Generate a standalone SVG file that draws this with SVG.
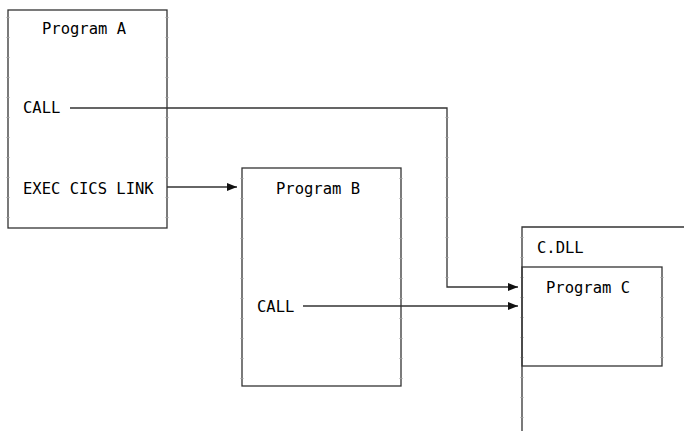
<svg xmlns="http://www.w3.org/2000/svg" width="684" height="431" viewBox="0 0 684 431">
<style>
.box{fill:none;stroke:#333;stroke-width:1.3}
.ln{fill:none;stroke:#333;stroke-width:1.3}
.tk{fill:none;stroke:#999;stroke-width:3;stroke-dasharray:1 19}
text{font-family:"DejaVu Sans Mono","Liberation Mono",monospace;font-size:15.5px;fill:#000}
</style>
<defs>
<marker id="ah" markerWidth="10" markerHeight="8" refX="10" refY="4" orient="auto" markerUnits="userSpaceOnUse">
<path d="M0,0 L10,4 L0,8 Z" fill="#111"/>
</marker>
</defs>
<g id="programA">
<rect class="box" x="8" y="10" width="159" height="218"/>
<line class="tk" x1="8" y1="17" x2="8" y2="228"/>
<line class="tk" x1="167" y1="17" x2="167" y2="228"/>
<text x="42" y="34">Program A</text>
<text x="23" y="113">CALL</text>
<text x="23" y="194">EXEC CICS LINK</text>
</g>
<g id="programB">
<rect class="box" x="242" y="168" width="159" height="218"/>
<line class="tk" x1="242" y1="178" x2="242" y2="386"/>
<line class="tk" x1="401" y1="178" x2="401" y2="386"/>
<text x="276" y="194">Program B</text>
<text x="257" y="312">CALL</text>
</g>
<g id="cdll">
<polyline class="ln" points="684,227 522,227 522,431"/>
<line class="tk" x1="522" y1="237" x2="522" y2="431"/>
<text x="537" y="253">C.DLL</text>
</g>
<g id="programC">
<rect class="box" x="522" y="267" width="140" height="99"/>
<line class="tk" x1="662" y1="277" x2="662" y2="366"/>
<text x="546" y="293">Program C</text>
</g>
<g id="connectors">
<polyline class="ln" points="70,108 447,108 447,287 518,287" marker-end="url(#ah)"/>
<line class="tk" x1="447" y1="117" x2="447" y2="287"/>
<line class="ln" x1="167" y1="187" x2="237" y2="187" marker-end="url(#ah)"/>
<line class="ln" x1="303" y1="306" x2="518" y2="306" marker-end="url(#ah)"/>
</g>
</svg>
